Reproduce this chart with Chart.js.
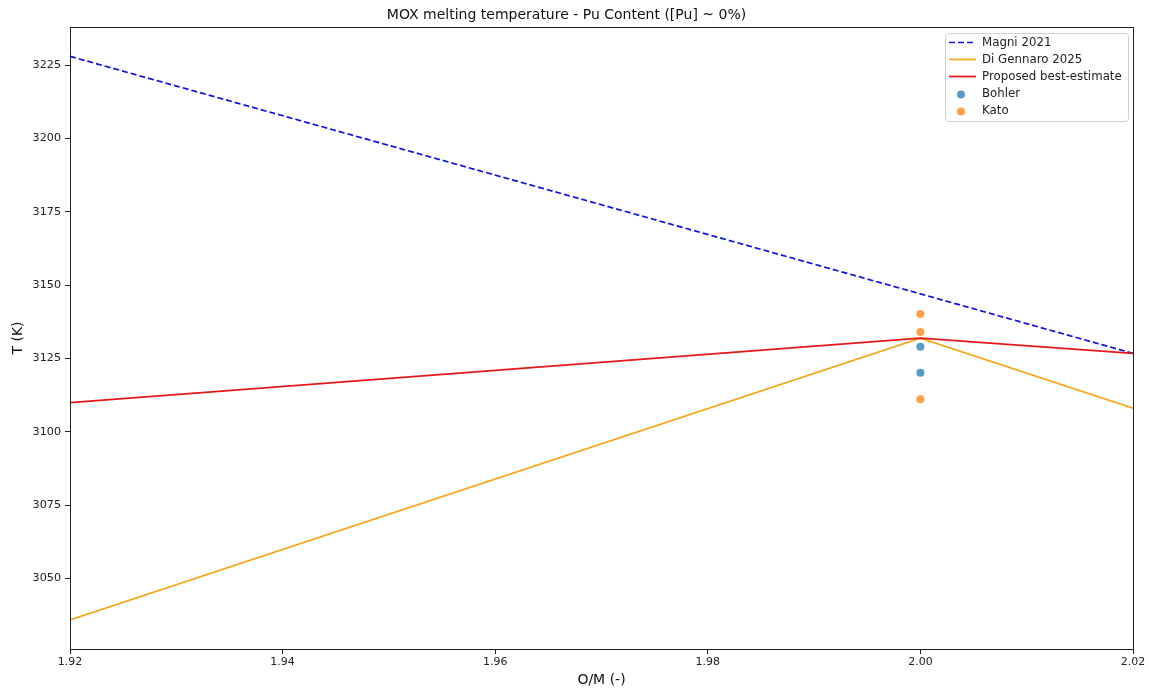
<!DOCTYPE html>
<html>
<head>
<meta charset="utf-8">
<script src="https://cdn.jsdelivr.net/npm/chart.js@4.4.1/dist/chart.umd.min.js"></script>
<style>
  html, body { margin: 0; padding: 0; background: #ffffff; }
  #wrap { width: 1149px; height: 689px; }
</style>
</head>
<body>
<div id="wrap"><canvas id="c" width="1149" height="689"></canvas></div>
<script>
// ---- Data ----
const omGrid      = [1.92, 2.00, 2.02];
const magni2021   = [3228.0, 3147.0, 3126.7];
const diGennaro   = [3035.8, 3131.9, 3108.0];
const proposed    = [3109.9, 3131.9, 3126.7];
const bohlerOM    = [2.00, 2.00];
const bohlerT     = [3129.0, 3120.1];
const katoOM      = [2.00, 2.00, 2.00];
const katoT       = [3140.1, 3134.0, 3111.1];
const xTicks      = [1.92, 1.94, 1.96, 1.98, 2.00, 2.02];
const yTicks      = [3050, 3075, 3100, 3125, 3150, 3175, 3200, 3225];

const FONT = "'DejaVu Sans', sans-serif";
const pts = (xs, ys) => xs.map((x, i) => ({ x: x, y: ys[i] }));

const frameAndLegend = {
  id: 'frameAndLegend',
  afterDraw(chart) {
    const ctx = chart.ctx;
    const a = chart.chartArea;
    ctx.save();
    ctx.strokeStyle = '#222';
    ctx.lineWidth = 1;
    ctx.strokeRect(Math.round(a.left) + 0.5, Math.round(a.top) + 0.5,
                   Math.round(a.right - a.left), Math.round(a.bottom - a.top));
    // legend
    const bx = 945, by = 33, bw = 183, bh = 88;
    ctx.fillStyle = 'rgba(255,255,255,0.85)';
    ctx.strokeStyle = '#d0d0d0';
    ctx.lineWidth = 1;
    ctx.beginPath();
    if (ctx.roundRect) ctx.roundRect(bx + 0.5, by + 0.5, bw, bh, 3); else ctx.rect(bx + 0.5, by + 0.5, bw, bh);
    ctx.fill(); ctx.stroke();
    ctx.font = '11.8px ' + FONT;
    ctx.textBaseline = 'middle';
    ctx.textAlign = 'left';
    chart.data.datasets.forEach((ds, i) => {
      const y = by + 9.5 + i * 17;
      if (ds.showLine) {
        ctx.strokeStyle = ds.borderColor;
        ctx.lineWidth = ds.borderWidth;
        ctx.setLineDash(ds.borderDash || []);
        ctx.beginPath();
        ctx.moveTo(949, y);
        ctx.lineTo(976, y);
        ctx.stroke();
        ctx.setLineDash([]);
      } else {
        ctx.fillStyle = ds.backgroundColor;
        ctx.beginPath();
        ctx.arc(961, y + 1, 4, 0, Math.PI * 2);
        ctx.fill();
      }
      ctx.fillStyle = '#222';
      ctx.fillText(ds.label, 982, y);
    });
    ctx.restore();
  }
};

new Chart(document.getElementById('c'), {
  type: 'scatter',
  data: {
    datasets: [
      { label: 'Magni 2021', data: pts(omGrid, magni2021), showLine: true,
        borderColor: '#1010e0', borderWidth: 1.7, borderDash: [6, 3], pointRadius: 0, order: 4 },
      { label: 'Di Gennaro 2025', data: pts(omGrid, diGennaro), showLine: true,
        borderColor: '#f2a81d', borderWidth: 1.7, pointRadius: 0, order: 3 },
      { label: 'Proposed best-estimate', data: pts(omGrid, proposed), showLine: true,
        borderColor: '#e3181b', borderWidth: 1.7, pointRadius: 0, order: 2 },
      { label: 'Bohler', data: pts(bohlerOM, bohlerT), showLine: false,
        backgroundColor: 'rgba(31,119,180,0.75)', borderWidth: 0, pointRadius: 4, order: 1 },
      { label: 'Kato', data: pts(katoOM, katoT), showLine: false,
        backgroundColor: 'rgba(255,127,14,0.75)', borderWidth: 0, pointRadius: 4, order: 0 }
    ]
  },
  options: {
    responsive: false,
    animation: false,
    layout: { padding: { left: 0, right: 16, top: 0, bottom: 0 } },
    plugins: {
      legend: { display: false },
      tooltip: { enabled: false },
      title: {
        display: true,
        text: 'MOX melting temperature - Pu Content ([Pu] ~ 0%)',
        color: '#111',
        font: { family: FONT, size: 14, weight: 'normal', lineHeight: 1.2 },
        padding: { top: 6.5, bottom: 3.7 }
      }
    },
    scales: {
      x: {
        type: 'linear',
        min: 1.92, max: 2.02,
        afterBuildTicks(s) { s.ticks = xTicks.map(v => ({ value: v })); },
        afterFit(s) { s.height = 40; },
        ticks: {
          color: '#222', font: { family: FONT, size: 11 }, padding: 2, maxRotation: 0,
          callback: v => v.toFixed(2)
        },
        grid: { display: true, drawOnChartArea: false, drawTicks: true, tickLength: 5, color: '#222' },
        border: { display: false },
        title: { display: true, text: 'O/M (-)', color: '#111',
                 font: { family: FONT, size: 14 }, padding: { top: 0, bottom: 0 } }
      },
      y: {
        type: 'linear',
        min: 3025.9, max: 3238.0,
        afterBuildTicks(s) { s.ticks = yTicks.map(v => ({ value: v })); },
        afterFit(s) { s.width = 70; },
        ticks: { color: '#222', font: { family: FONT, size: 11.2 }, padding: 4,
                 callback: v => String(v) },
        grid: { display: true, drawOnChartArea: false, drawTicks: true, tickLength: 5, color: '#222' },
        border: { display: false },
        title: { display: true, text: 'T (K)', color: '#111',
                 font: { family: FONT, size: 14 }, padding: { top: 10, bottom: 0 } }
      }
    }
  },
  plugins: [frameAndLegend]
});
</script>
</body>
</html>
